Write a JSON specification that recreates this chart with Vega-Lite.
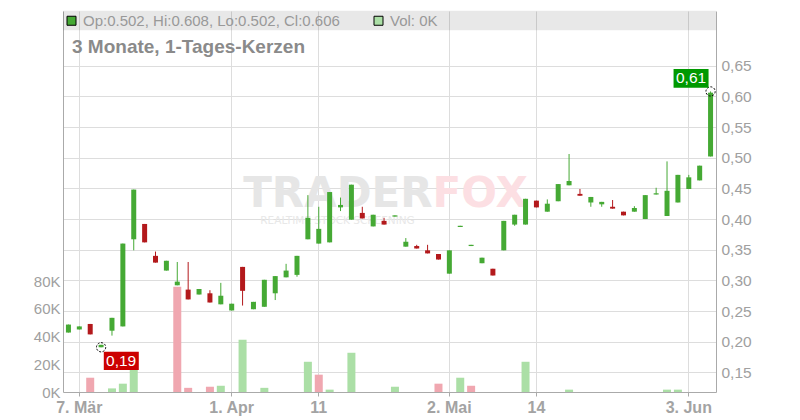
{
  "$schema": "https://vega.github.io/schema/vega-lite/v6.json",
  "width": 653,
  "height": 381,
  "autosize": {"type": "none"},
  "padding": {"left": 63, "top": 11, "right": 84, "bottom": 28},
  "config": {
    "font": "Liberation Sans",
    "view": {"stroke": null},
    "axis": {"gridColor": "#dddddd", "domainColor": "#aaaaaa", "tickColor": "#aaaaaa", "labelColor": "#a0a0a0"}
  },
  "title": {
    "text": "3 Monate, 1-Tages-Kerzen",
    "anchor": "start",
    "frame": "group",
    "offset": 0,
    "baseline": "alphabetic",
    "dx": 9,
    "dy": 61,
    "fontSize": 19,
    "fontWeight": "bold",
    "color": "#8a8a8a"
  },
  "datasets": {
    "px": [
      {"d": "2024-03-06", "o": 0.215, "h": 0.228, "l": 0.215, "c": 0.228, "v": 0},
      {"d": "2024-03-07", "o": 0.220, "h": 0.225, "l": 0.220, "c": 0.225, "v": 0},
      {"d": "2024-03-08", "o": 0.229, "h": 0.229, "l": 0.212, "c": 0.212, "v": 10300},
      {"d": "2024-03-11", "o": 0.191, "h": 0.195, "l": 0.191, "c": 0.195, "v": 0},
      {"d": "2024-03-12", "o": 0.218, "h": 0.239, "l": 0.210, "c": 0.239, "v": 2600},
      {"d": "2024-03-13", "o": 0.225, "h": 0.360, "l": 0.225, "c": 0.360, "v": 6000},
      {"d": "2024-03-14", "o": 0.367, "h": 0.448, "l": 0.349, "c": 0.448, "v": 17000},
      {"d": "2024-03-15", "o": 0.392, "h": 0.392, "l": 0.362, "c": 0.362, "v": 0},
      {"d": "2024-03-18", "o": 0.340, "h": 0.347, "l": 0.329, "c": 0.329, "v": 0},
      {"d": "2024-03-19", "o": 0.316, "h": 0.332, "l": 0.316, "c": 0.332, "v": 0},
      {"d": "2024-03-20", "o": 0.292, "h": 0.330, "l": 0.292, "c": 0.298, "v": 76000},
      {"d": "2024-03-21", "o": 0.285, "h": 0.330, "l": 0.269, "c": 0.269, "v": 3000},
      {"d": "2024-03-22", "o": 0.277, "h": 0.286, "l": 0.277, "c": 0.286, "v": 0},
      {"d": "2024-03-25", "o": 0.279, "h": 0.284, "l": 0.264, "c": 0.264, "v": 3800},
      {"d": "2024-03-26", "o": 0.261, "h": 0.296, "l": 0.261, "c": 0.275, "v": 4500},
      {"d": "2024-04-01", "o": 0.251, "h": 0.262, "l": 0.251, "c": 0.262, "v": 0},
      {"d": "2024-04-02", "o": 0.322, "h": 0.322, "l": 0.259, "c": 0.283, "v": 37700},
      {"d": "2024-04-03", "o": 0.253, "h": 0.265, "l": 0.253, "c": 0.265, "v": 0},
      {"d": "2024-04-04", "o": 0.257, "h": 0.301, "l": 0.257, "c": 0.301, "v": 3000},
      {"d": "2024-04-05", "o": 0.279, "h": 0.307, "l": 0.268, "c": 0.307, "v": 0},
      {"d": "2024-04-08", "o": 0.305, "h": 0.327, "l": 0.305, "c": 0.316, "v": 0},
      {"d": "2024-04-09", "o": 0.309, "h": 0.340, "l": 0.306, "c": 0.340, "v": 0},
      {"d": "2024-04-10", "o": 0.367, "h": 0.439, "l": 0.367, "c": 0.402, "v": 21800},
      {"d": "2024-04-11", "o": 0.360, "h": 0.420, "l": 0.360, "c": 0.384, "v": 12500},
      {"d": "2024-04-12", "o": 0.362, "h": 0.444, "l": 0.362, "c": 0.444, "v": 1700},
      {"d": "2024-04-15", "o": 0.419, "h": 0.435, "l": 0.413, "c": 0.423, "v": 0},
      {"d": "2024-04-16", "o": 0.399, "h": 0.456, "l": 0.399, "c": 0.456, "v": 28300},
      {"d": "2024-04-18", "o": 0.410, "h": 0.420, "l": 0.401, "c": 0.401, "v": 0},
      {"d": "2024-04-19", "o": 0.388, "h": 0.407, "l": 0.388, "c": 0.407, "v": 0},
      {"d": "2024-04-22", "o": 0.397, "h": 0.402, "l": 0.391, "c": 0.391, "v": 0},
      {"d": "2024-04-23", "o": 0.404, "h": 0.406, "l": 0.404, "c": 0.406, "v": 3800},
      {"d": "2024-04-25", "o": 0.355, "h": 0.369, "l": 0.355, "c": 0.363, "v": 0},
      {"d": "2024-04-26", "o": 0.356, "h": 0.358, "l": 0.352, "c": 0.352, "v": 0},
      {"d": "2024-04-29", "o": 0.349, "h": 0.358, "l": 0.344, "c": 0.344, "v": 0},
      {"d": "2024-04-30", "o": 0.343, "h": 0.343, "l": 0.334, "c": 0.334, "v": 6000},
      {"d": "2024-05-02", "o": 0.311, "h": 0.349, "l": 0.311, "c": 0.349, "v": 0},
      {"d": "2024-05-03", "o": 0.387, "h": 0.389, "l": 0.387, "c": 0.389, "v": 10300},
      {"d": "2024-05-06", "o": 0.356, "h": 0.358, "l": 0.356, "c": 0.358, "v": 4500},
      {"d": "2024-05-07", "o": 0.328, "h": 0.337, "l": 0.328, "c": 0.337, "v": 0},
      {"d": "2024-05-08", "o": 0.319, "h": 0.319, "l": 0.308, "c": 0.308, "v": 0},
      {"d": "2024-05-09", "o": 0.349, "h": 0.397, "l": 0.349, "c": 0.397, "v": 0},
      {"d": "2024-05-10", "o": 0.391, "h": 0.407, "l": 0.389, "c": 0.407, "v": 0},
      {"d": "2024-05-13", "o": 0.391, "h": 0.433, "l": 0.391, "c": 0.433, "v": 21800},
      {"d": "2024-05-14", "o": 0.430, "h": 0.430, "l": 0.419, "c": 0.419, "v": 0},
      {"d": "2024-05-15", "o": 0.412, "h": 0.432, "l": 0.412, "c": 0.425, "v": 0},
      {"d": "2024-05-16", "o": 0.429, "h": 0.457, "l": 0.429, "c": 0.457, "v": 0},
      {"d": "2024-05-17", "o": 0.455, "h": 0.506, "l": 0.455, "c": 0.462, "v": 1700},
      {"d": "2024-05-20", "o": 0.441, "h": 0.449, "l": 0.438, "c": 0.438, "v": 0},
      {"d": "2024-05-21", "o": 0.427, "h": 0.436, "l": 0.420, "c": 0.436, "v": 0},
      {"d": "2024-05-22", "o": 0.424, "h": 0.428, "l": 0.420, "c": 0.428, "v": 0},
      {"d": "2024-05-23", "o": 0.420, "h": 0.431, "l": 0.417, "c": 0.417, "v": 0},
      {"d": "2024-05-24", "o": 0.412, "h": 0.412, "l": 0.406, "c": 0.406, "v": 0},
      {"d": "2024-05-27", "o": 0.412, "h": 0.421, "l": 0.412, "c": 0.418, "v": 0},
      {"d": "2024-05-28", "o": 0.400, "h": 0.439, "l": 0.400, "c": 0.439, "v": 0},
      {"d": "2024-05-29", "o": 0.440, "h": 0.451, "l": 0.440, "c": 0.442, "v": 0},
      {"d": "2024-05-30", "o": 0.405, "h": 0.494, "l": 0.405, "c": 0.446, "v": 1700},
      {"d": "2024-05-31", "o": 0.427, "h": 0.472, "l": 0.427, "c": 0.472, "v": 1700},
      {"d": "2024-06-03", "o": 0.449, "h": 0.472, "l": 0.449, "c": 0.468, "v": 0},
      {"d": "2024-06-04", "o": 0.463, "h": 0.487, "l": 0.463, "c": 0.487, "v": 0},
      {"d": "2024-06-05", "o": 0.502, "h": 0.608, "l": 0.502, "c": 0.606, "v": 0}
    ]
  },
  "layer": [
    {
      "data": {"name": "px"},
      "transform": [
        {"window": [{"op": "lag", "field": "c", "as": "pc"}], "sort": [{"field": "d"}]}
      ],
      "mark": {"type": "bar", "width": 8},
      "encoding": {
        "x": {
          "field": "d", "type": "ordinal",
          "scale": {"type": "band", "paddingInner": 0, "paddingOuter": 0},
          "axis": {
            "orient": "bottom",
            "title": null,
            "values": ["2024-03-07", "2024-04-01", "2024-04-11", "2024-05-02", "2024-05-14", "2024-06-03"],
            "labelExpr": "datum.value == '2024-03-07' ? '7. Mär' : datum.value == '2024-04-01' ? '1. Apr' : datum.value == '2024-04-11' ? '11' : datum.value == '2024-05-02' ? '2. Mai' : datum.value == '2024-05-14' ? '14' : '3. Jun'",
            "labelAngle": 0,
            "labelFontSize": 16,
            "labelFontWeight": {"condition": {"test": "length(datum.label) > 2", "value": "bold"}, "value": "normal"},
            "labelColor": "#a3a3a3",
            "grid": true,
            "bandPosition": 0.5,
            "ticks": true,
            "tickSize": 4,
            "labelPadding": 3
          }
        },
        "y": {
          "field": "v", "type": "quantitative",
          "scale": {"domain": [0, 274800], "nice": false, "zero": true},
          "axis": {
            "orient": "left",
            "title": null,
            "values": [0, 20000, 40000, 60000, 80000],
            "tickCount": 20,
            "labelExpr": "(datum.value / 1000) + 'K'",
            "grid": false,
            "ticks": false,
            "labelPadding": 3,
            "labelFontSize": 15
          }
        },
        "color": {
          "condition": {"test": "datum.pc == null || datum.c >= datum.pc", "value": "#abdfa6"},
          "value": "#f0a7b0"
        }
      }
    },
    {
      "layer": [
        {
          "data": {"values": [{}]},
          "mark": {"type": "rule", "color": "#000000", "opacity": 0.09, "strokeWidth": 19.5},
          "encoding": {
            "y": {"datum": 0.7236, "type": "quantitative", "scale": {"domain": [0.1181, 0.7391], "nice": false, "zero": false}, "axis": {"title": null}}
          }
        },
        {
          "data": {"name": "px"},
          "transform": [{"filter": "datum.d == '2024-04-29'"}],
          "mark": {"type": "text", "text": "TRADER", "font": "DejaVu Sans", "fontWeight": "bold", "fontSize": 42, "align": "right", "baseline": "alphabetic", "dx": 5, "color": "#e6e6e6"},
          "encoding": {
            "x": {"field": "d", "type": "ordinal", "axis": {"title": null}},
            "y": {"datum": 0.42, "type": "quantitative", "scale": {"domain": [0.1181, 0.7391], "nice": false, "zero": false}, "axis": {"title": null}}
          }
        },
        {
          "data": {"name": "px"},
          "transform": [{"filter": "datum.d == '2024-04-29'"}],
          "mark": {"type": "text", "text": "FOX", "font": "DejaVu Sans", "fontWeight": "bold", "fontSize": 42, "align": "left", "baseline": "alphabetic", "dx": 5, "color": "#fcdfe3"},
          "encoding": {
            "x": {"field": "d", "type": "ordinal", "axis": {"title": null}},
            "y": {"datum": 0.42, "type": "quantitative", "scale": {"domain": [0.1181, 0.7391], "nice": false, "zero": false}, "axis": {"title": null}}
          }
        },
        {
          "data": {"name": "px"},
          "transform": [{"filter": "datum.d == '2024-04-15'"}],
          "mark": {"type": "text", "text": "REALTIME STOCK SCREENING", "font": "DejaVu Sans", "fontSize": 10.5, "align": "center", "baseline": "alphabetic", "dx": -3, "color": "#e8e8e8"},
          "encoding": {
            "x": {"field": "d", "type": "ordinal", "axis": {"title": null}},
            "y": {"datum": 0.392, "type": "quantitative", "scale": {"domain": [0.1181, 0.7391], "nice": false, "zero": false}, "axis": {"title": null}}
          }
        },
        {
          "data": {"values": [{"k": "Op:0.502, Hi:0.608, Lo:0.502, Cl:0.606"}, {"k": "Vol: 0K"}]},
          "mark": {"type": "point", "filled": true, "opacity": 0},
          "encoding": {
            "color": {
              "field": "k", "type": "nominal",
              "scale": {"domain": ["Op:0.502, Hi:0.608, Lo:0.502, Cl:0.606", "Vol: 0K"], "range": ["#45a934", "#abdfa6"]},
              "legend": {
                "orient": "none", "legendX": 1, "legendY": 2, "direction": "horizontal",
                "title": null, "symbolType": "square", "symbolSize": 81,
                "labelFontSize": 15, "labelColor": "#999999", "labelLimit": 600,
                "labelOffset": 4, "columnPadding": 31, "padding": 0,
                "encode": {"symbols": {"update": {"opacity": {"value": 1}, "stroke": {"value": "#000000"}, "strokeWidth": {"value": 1}}}}
              }
            }
          }
        },
        {
          "data": {"name": "px"},
          "mark": {"type": "rule", "strokeWidth": 1},
          "encoding": {
            "x": {"field": "d", "type": "ordinal", "axis": {"title": null}},
            "y": {"field": "l", "type": "quantitative", "scale": {"domain": [0.1181, 0.7391], "nice": false, "zero": false}, "axis": {"title": null}},
            "y2": {"field": "h"},
            "color": {"condition": {"test": "datum.c >= datum.o", "value": "#45a934"}, "value": "#b3191c"}
          }
        },
        {
          "data": {"name": "px"},
          "mark": {"type": "bar", "width": 5},
          "encoding": {
            "x": {"field": "d", "type": "ordinal", "axis": {"title": null}},
            "y": {
              "field": "o", "type": "quantitative",
              "scale": {"domain": [0.1181, 0.7391], "nice": false, "zero": false},
              "axis": {
                "orient": "right",
                "title": null,
                "values": [0.15, 0.2, 0.25, 0.3, 0.35, 0.4, 0.45, 0.5, 0.55, 0.6, 0.65],
                "tickCount": 30,
                "labelExpr": "replace(format(datum.value, '.2f'), '.', ',')",
                "grid": true,
                "ticks": false,
                "labelPadding": 5,
                "labelFontSize": 15.5
              }
            },
            "y2": {"field": "c"},
            "color": {"condition": {"test": "datum.c >= datum.o", "value": "#45a934"}, "value": "#b3191c"}
          }
        },
        {
          "data": {"name": "px"},
          "transform": [{"filter": "datum.d == '2024-03-11'"}],
          "layer": [
            {"mark": {"type": "point", "shape": "circle", "size": 85, "filled": false, "stroke": "#000000", "strokeWidth": 1, "strokeDash": [2, 1.5], "opacity": 1}},
            {"mark": {"type": "point", "shape": "M0.054,0.09H0.754V0.456H0.054Z", "size": 10000, "filled": true, "color": "#cc0000", "opacity": 1}},
            {"mark": {"type": "text", "text": "0,19", "color": "#ffffff", "fontSize": 15.5, "align": "center", "baseline": "middle", "dx": 20, "dy": 14}}
          ],
          "encoding": {
            "x": {"field": "d", "type": "ordinal", "axis": {"title": null}},
            "y": {"field": "l", "type": "quantitative", "scale": {"domain": [0.1181, 0.7391], "nice": false, "zero": false}, "axis": {"title": null}}
          }
        },
        {
          "data": {"name": "px"},
          "transform": [{"filter": "datum.d == '2024-06-05'"}],
          "layer": [
            {"mark": {"type": "point", "shape": "circle", "size": 85, "filled": false, "stroke": "#000000", "strokeWidth": 1, "strokeDash": [2, 1.5], "opacity": 1}},
            {"mark": {"type": "point", "shape": "M-0.74,-0.45H-0.04V-0.076H-0.74Z", "size": 10000, "filled": true, "color": "#009900", "opacity": 1}},
            {"mark": {"type": "text", "text": "0,61", "color": "#ffffff", "fontSize": 15.5, "align": "center", "baseline": "middle", "dx": -19.5, "dy": -13}}
          ],
          "encoding": {
            "x": {"field": "d", "type": "ordinal", "axis": {"title": null}},
            "y": {"field": "h", "type": "quantitative", "scale": {"domain": [0.1181, 0.7391], "nice": false, "zero": false}, "axis": {"title": null}}
          }
        }
      ]
    }
  ],
  "resolve": {"scale": {"y": "independent"}}
}
